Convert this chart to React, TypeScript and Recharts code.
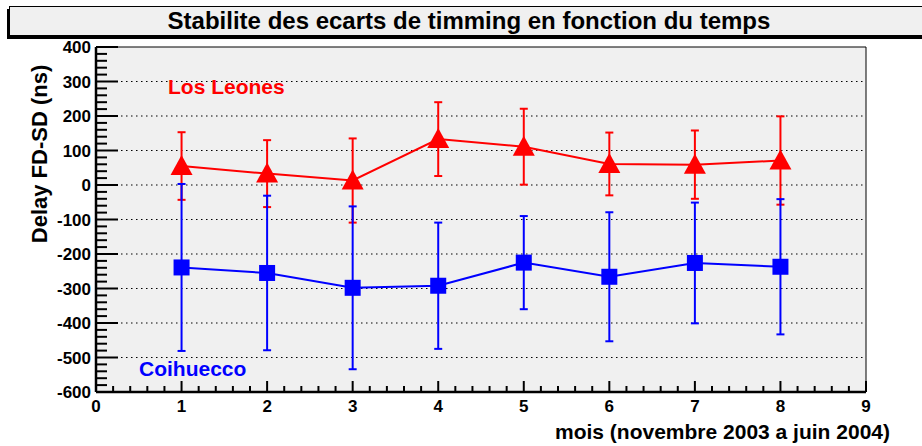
import React from 'react';
import { LineChart, Line, XAxis, YAxis, ErrorBar, CartesianGrid, ReferenceLine } from 'recharts';

// months since nov 2003
const months = [1, 2, 3, 4, 5, 6, 7, 8];
const losLeones = [55, 33, 13, 133, 111, 61, 59, 71];
const losLeonesErr = [98, 97, 122, 107, 110, 91, 99, 128];
const coihuecco = [-239, -255, -298, -292, -225, -266, -226, -237];
const coihueccoErr = [242, 224, 236, 183, 135, 187, 175, 196];

const xTicks = [0, 1, 2, 3, 4, 5, 6, 7, 8, 9];
const yTicks = [-600, -500, -400, -300, -200, -100, 0, 100, 200, 300, 400];

const FONT = '"Liberation Sans", Arial, sans-serif';
const W = 922;
const H = 446;

// major ticks + 4 minor subdivisions between each pair
const withMinor = (ticks: number[]) => {
  const out: number[] = [];
  ticks.forEach((t, i) => {
    out.push(t);
    if (i < ticks.length - 1) {
      const step = (ticks[i + 1] - t) / 5;
      for (let k = 1; k < 5; k++) out.push(+(t + k * step).toFixed(4));
    }
  });
  return out;
};

const isMajor = (v: number, ticks: number[]) => ticks.some((t) => Math.abs(t - v) < 1e-6);

const data = months.map((m, i) => ({
  month: m,
  ll: losLeones[i],
  llErr: losLeonesErr[i],
  co: coihuecco[i],
  coErr: coihueccoErr[i],
}));

// ROOT style: ticks point inward, labels only on majors
const YTick = (props: any) => {
  const { x, y, payload } = props;
  const major = isMajor(payload.value, yTicks);
  return (
    <g>
      <path d={`M${x},${y}h${major ? 22 : 11}`} stroke="#000" strokeWidth={2} fill="none" />
      {major && (
        <text x={x - 5} y={y + 6} textAnchor="end" fontFamily={FONT} fontWeight="bold" fontSize={17} fill="#000">
          {payload.value}
        </text>
      )}
    </g>
  );
};

const XTick = (props: any) => {
  const { x, y, payload } = props;
  const major = isMajor(payload.value, xTicks);
  return (
    <g>
      <path d={`M${x},${y}v${major ? -11 : -6}`} stroke="#000" strokeWidth={2} fill="none" />
      {major && (
        <text x={x} y={y + 20} textAnchor="middle" fontFamily={FONT} fontWeight="bold" fontSize={17} fill="#000">
          {payload.value}
        </text>
      )}
    </g>
  );
};

const Triangle = (props: any) => {
  const { cx, cy } = props;
  if (cx == null || cy == null) return null;
  return <path d={`M${cx},${cy - 11} L${cx + 11},${cy + 9} L${cx - 11},${cy + 9} Z`} fill="#ff0000" />;
};

const Square = (props: any) => {
  const { cx, cy } = props;
  if (cx == null || cy == null) return null;
  return <rect x={cx - 8} y={cy - 8} width={16} height={16} fill="#0000ff" />;
};

export default function App() {
  return (
    <div style={{ position: 'absolute', left: 0, top: 0, width: W, height: H, background: '#fff', overflow: 'hidden' }}>
      <LineChart width={W} height={H} data={data} margin={{ top: 47, right: 56, bottom: 24, left: 36 }}>
        <CartesianGrid horizontal={false} vertical={false} fill="#f0f0f0" />
        {yTicks.slice(1, -1).map((v) => (
          <ReferenceLine key={v} y={v} stroke="#000" strokeWidth={1} strokeDasharray="1.5 3.5" />
        ))}
        <ReferenceLine y={400} stroke="#000" strokeWidth={1} />
        <ReferenceLine x={9} stroke="#000" strokeWidth={1} />
        <XAxis
          dataKey="month"
          type="number"
          domain={[0, 9]}
          ticks={withMinor(xTicks)}
          interval={0}
          height={30}
          tickSize={0}
          tickMargin={0}
          tickLine={false}
          tick={<XTick />}
          axisLine={{ stroke: '#000', strokeWidth: 2.5 }}
        />
        <YAxis
          type="number"
          domain={[-600, 400]}
          ticks={withMinor(yTicks)}
          interval={0}
          width={60}
          tickSize={0}
          tickMargin={0}
          tickLine={false}
          tick={<YTick />}
          axisLine={{ stroke: '#000', strokeWidth: 2.5 }}
        />
        <Line
          dataKey="ll"
          stroke="#ff0000"
          strokeWidth={2}
          dot={<Triangle />}
          activeDot={false}
          isAnimationActive={false}
        >
          <ErrorBar dataKey="llErr" direction="y" width={4} stroke="#ff0000" strokeWidth={2} />
        </Line>
        <Line
          dataKey="co"
          stroke="#0000ff"
          strokeWidth={2}
          dot={<Square />}
          activeDot={false}
          isAnimationActive={false}
        >
          <ErrorBar dataKey="coErr" direction="y" width={4} stroke="#0000ff" strokeWidth={2} />
        </Line>
      </LineChart>
      <svg width={W} height={H} style={{ position: 'absolute', left: 0, top: 0, pointerEvents: 'none' }}>
        <rect x={7} y={9} width={930} height={30} fill="#000" />
        <rect x={9.5} y={6.5} width={930} height={29} fill="#f0f0f0" stroke="#000" strokeWidth={1} />
        <text x={469} y={29} textAnchor="middle" fontFamily={FONT} fontWeight="bold" fontSize={24} fill="#000">
          Stabilite des ecarts de timming en fonction du temps
        </text>
        <text
          transform="translate(47,154) rotate(-90)"
          textAnchor="middle"
          fontFamily={FONT}
          fontWeight="bold"
          fontSize={22}
          fill="#000"
        >
          Delay FD-SD (ns)
        </text>
        <text x={890} y={439} textAnchor="end" fontFamily={FONT} fontWeight="bold" fontSize={21} fill="#000">
          mois (novembre 2003 a juin 2004)
        </text>
        <text x={168} y={94} fontFamily={FONT} fontWeight="bold" fontSize={21} fill="#ff0000">
          Los Leones
        </text>
        <text x={139} y={376} fontFamily={FONT} fontWeight="bold" fontSize={21} fill="#0000ff">
          Coihuecco
        </text>
      </svg>
    </div>
  );
}
